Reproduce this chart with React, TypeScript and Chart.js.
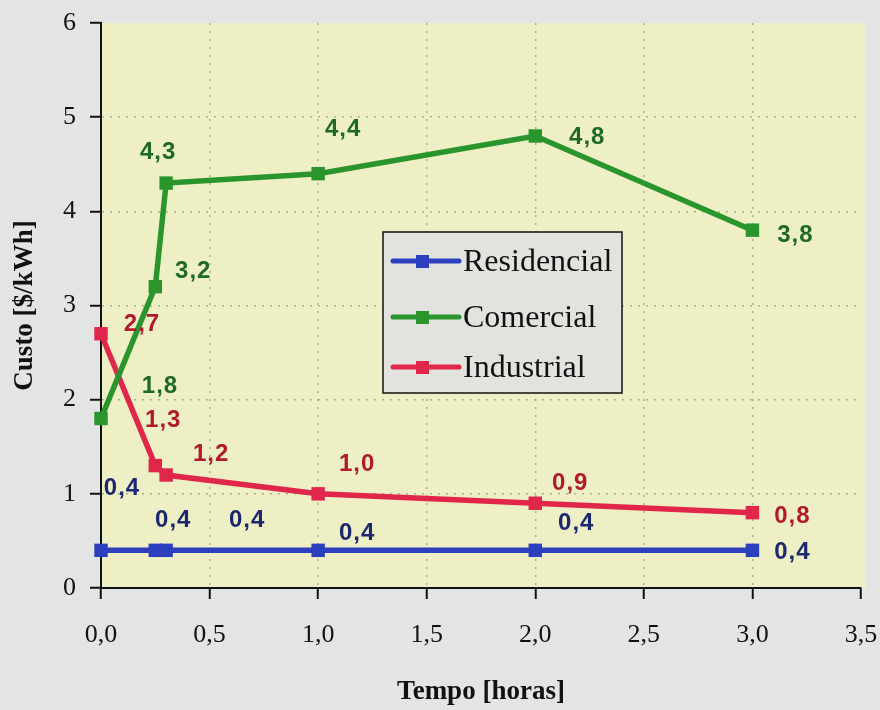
import { useEffect, useRef } from "react";
import { Chart, registerables } from "chart.js";

Chart.register(...registerables);

// Tempo [horas] at each sample
const hours = [0, 0.25, 0.3, 1, 2, 3];
// Custo [$/kWh] per class of consumer
const residencial = [0.4, 0.4, 0.4, 0.4, 0.4, 0.4];
const comercial = [1.8, 3.2, 4.3, 4.4, 4.8, 3.8];
const industrial = [2.7, 1.3, 1.2, 1.0, 0.9, 0.8];
const seriesNames = ["Residencial", "Comercial", "Industrial"];

const xMin = 0;
const xMax = 3.5;
const xStep = 0.5;
const yMin = 0;
const yMax = 6;
const yStep = 1;

const xTitle = "Tempo [horas]";
const yTitle = "Custo [$/kWh]";

// Styling
const lineColors = ["#2c3fbd", "#2b952d", "#e0264a"];
const labelColors = ["#1b2870", "#1d6a20", "#b01a2c"];
const pageBg = "#e3e5e4";
const plotBg = "#eeefc5";
const legendBg = "#e2e3df";

// Value-label offsets (px) from each point, per series
const labelOffsets: [number, number][][] = [
  [[21, -62], [18, -30], [81, -30], [39, -17], [41, -27], [40, 2]],
  [[59, -32], [38, -15], [-8, -31], [25, -44], [52, 1], [43, 5]],
  [[41, -9], [8, -45], [45, -21], [39, -29], [35, -20], [40, 4]],
];

const fmt = (v: number, d = 1) => v.toFixed(d).replace(".", ",");

// Drop the automatic tick-label overhang so the layout padding alone sets the plot box
const noOverhang = (s: any) => {
  s.paddingLeft = 0;
  s.paddingRight = 0;
  s.paddingTop = 0;
  s.paddingBottom = 0;
};

const backgroundPlugin = {
  id: "pageBackground",
  beforeDraw(chart: any) {
    const { ctx, chartArea: a, width, height } = chart;
    ctx.save();
    ctx.fillStyle = pageBg;
    ctx.fillRect(0, 0, width, height);
    ctx.fillStyle = plotBg;
    ctx.fillRect(a.left, a.top, a.right - a.left + 5, a.bottom - a.top);
    ctx.restore();
  },
};

const valueLabelPlugin = {
  id: "valueLabels",
  afterDatasetsDraw(chart: any) {
    const { ctx } = chart;
    ctx.save();
    ctx.font = "bold 24px 'Liberation Sans', Arial, sans-serif";
    (ctx as any).letterSpacing = "1px";
    ctx.textAlign = "center";
    ctx.textBaseline = "middle";
    chart.data.datasets.forEach((ds: any, i: number) => {
      const meta = chart.getDatasetMeta(i);
      meta.data.forEach((pt: any, j: number) => {
        const off = labelOffsets[i][j];
        const v = ds.data[j].y;
        ctx.fillStyle = labelColors[i];
        ctx.fillText(fmt(v), pt.x + off[0], pt.y + off[1]);
      });
    });
    ctx.restore();
  },
};

const legendBoxPlugin = {
  id: "legendBox",
  afterDraw(chart: any) {
    const { ctx } = chart;
    const x0 = 383, y0 = 232, w = 239, h = 161;
    const rows = [261, 317, 367];
    ctx.save();
    ctx.fillStyle = legendBg;
    ctx.fillRect(x0, y0, w, h);
    ctx.strokeStyle = "#111";
    ctx.lineWidth = 1.5;
    ctx.strokeRect(x0, y0, w, h);
    ctx.font = "32px 'Liberation Serif', 'Times New Roman', serif";
    ctx.textAlign = "left";
    ctx.textBaseline = "middle";
    seriesNames.forEach((name, i) => {
      const y = rows[i];
      ctx.strokeStyle = lineColors[i];
      ctx.lineWidth = 5;
      ctx.lineCap = "round";
      ctx.beginPath();
      ctx.moveTo(393, y);
      ctx.lineTo(459, y);
      ctx.stroke();
      ctx.fillStyle = lineColors[i];
      ctx.fillRect(416, y - 6, 13, 13);
      ctx.fillStyle = "#111";
      ctx.fillText(name, 463, y + 2);
    });
    ctx.restore();
  },
};

export default function App() {
  const ref = useRef<HTMLCanvasElement | null>(null);

  useEffect(() => {
    document.body.style.margin = "0";
    const canvas = ref.current;
    if (!canvas) return;
    const series = [residencial, comercial, industrial];
    const chart = new Chart(canvas, {
      type: "line",
      data: {
        datasets: series.map((vals, i) => ({
          label: seriesNames[i],
          data: hours.map((h, j) => ({ x: h, y: vals[j] })),
          borderColor: lineColors[i],
          backgroundColor: lineColors[i],
          borderWidth: 5.5,
          pointStyle: "rect",
          pointRadius: 9.5,
          pointBorderWidth: 0,
          tension: 0,
          clip: false as any,
        })),
      },
      options: {
        responsive: false,
        animation: false,
        devicePixelRatio: 1,
        layout: { padding: { left: 0, right: 19, top: 23, bottom: 0 } },
        plugins: {
          legend: { display: false },
          tooltip: { enabled: false },
        },
        scales: {
          x: {
            type: "linear",
            min: xMin,
            max: xMax,
            afterFit: (s: any) => {
              s.height = 122;
              noOverhang(s);
            },
            afterBuildTicks: (s: any) => {
              const t = [];
              for (let v = xMin; v <= xMax + 1e-9; v += xStep) t.push({ value: +v.toFixed(2) });
              s.ticks = t;
            },
            ticks: {
              color: "#111",
              padding: 21,
              maxRotation: 0,
              font: { family: "'Liberation Serif', 'Times New Roman', serif", size: 26 },
              callback: (v: any) => fmt(Number(v)),
            },
            grid: {
              color: (c: any) =>
                c.tick && (c.tick.value === xMin || c.tick.value === xMax)
                  ? "rgba(0,0,0,0)"
                  : "rgba(140,160,125,0.75)",
              lineWidth: 1.5,
              tickLength: 11,
              tickColor: "#111",
              tickWidth: 2,
              tickBorderDash: [],
            },
            border: { color: "#111", width: 2, dash: [2, 6] as any },
            title: {
              display: true,
              text: xTitle,
              color: "#111",
              font: { family: "'Liberation Serif', 'Times New Roman', serif", size: 27, weight: "bold" },
              padding: { top: 0, bottom: 2 },
            },
          },
          y: {
            type: "linear",
            min: yMin,
            max: yMax,
            afterFit: (s: any) => {
              s.width = 101;
              noOverhang(s);
            },
            ticks: {
              stepSize: yStep,
              color: "#111",
              padding: 14,
              font: { family: "'Liberation Serif', 'Times New Roman', serif", size: 26 },
              callback: (v: any) => String(v),
            },
            grid: {
              color: (c: any) =>
                c.tick && (c.tick.value === yMin || c.tick.value === yMax)
                  ? "rgba(0,0,0,0)"
                  : "rgba(140,160,125,0.75)",
              lineWidth: 1.5,
              tickLength: 11,
              tickColor: "#111",
              tickWidth: 2,
              tickBorderDash: [],
            },
            border: { color: "#111", width: 2, dash: [2, 6] as any },
            title: {
              display: true,
              text: yTitle,
              color: "#111",
              font: { family: "'Liberation Serif', 'Times New Roman', serif", size: 27, weight: "bold" },
              padding: { top: 9, bottom: 0 },
            },
          },
        },
      },
      plugins: [backgroundPlugin, valueLabelPlugin, legendBoxPlugin],
    });
    return () => chart.destroy();
  }, []);

  return <canvas ref={ref} width={880} height={710} style={{ display: "block" }} />;
}
